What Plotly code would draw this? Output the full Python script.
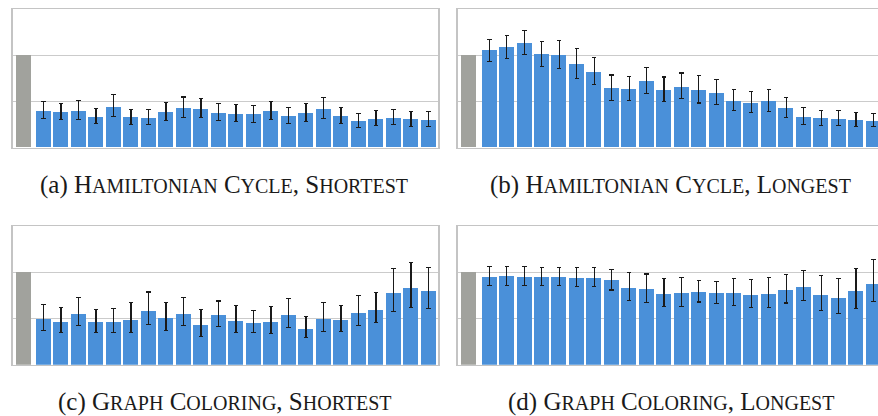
import plotly.graph_objects as go

# Normalised run length per configuration; the grey bar is the reference (1.0)
baseline = 1.0

ham_short = [0.396, 0.385, 0.396, 0.331, 0.439, 0.331, 0.320, 0.385, 0.428, 0.417, 0.374, 0.363,
             0.363, 0.396, 0.342, 0.374, 0.417, 0.342, 0.288, 0.309, 0.320, 0.309, 0.299]
ham_short_hi = [0.101, 0.094, 0.119, 0.097, 0.133, 0.083, 0.094, 0.104, 0.122, 0.115, 0.101, 0.104,
                0.097, 0.108, 0.090, 0.101, 0.126, 0.097, 0.083, 0.097, 0.097, 0.086, 0.090]
ham_short_lo = [0.076, 0.083, 0.086, 0.072, 0.104, 0.076, 0.072, 0.090, 0.104, 0.094, 0.079, 0.079,
                0.086, 0.094, 0.076, 0.086, 0.097, 0.076, 0.065, 0.068, 0.072, 0.079, 0.068]

ham_long = [1.054, 1.086, 1.129, 1.011, 1.000, 0.903, 0.817, 0.644, 0.633, 0.719, 0.622, 0.655,
            0.622, 0.590, 0.504, 0.482, 0.504, 0.428, 0.331, 0.320, 0.309, 0.299, 0.288]
ham_long_hi = [0.122, 0.126, 0.137, 0.144, 0.165, 0.169, 0.162, 0.144, 0.140, 0.147, 0.144, 0.155,
               0.158, 0.147, 0.126, 0.126, 0.126, 0.112, 0.101, 0.086, 0.094, 0.083, 0.086]
ham_long_lo = [0.115, 0.115, 0.122, 0.133, 0.140, 0.151, 0.133, 0.129, 0.122, 0.129, 0.122, 0.122,
               0.137, 0.122, 0.101, 0.097, 0.108, 0.097, 0.076, 0.076, 0.068, 0.068, 0.061]

col_short = [0.496, 0.464, 0.551, 0.464, 0.464, 0.486, 0.583, 0.507, 0.551, 0.431, 0.540, 0.475,
             0.453, 0.464, 0.540, 0.388, 0.496, 0.486, 0.562, 0.594, 0.779, 0.833, 0.801]
col_short_hi = [0.156, 0.156, 0.174, 0.130, 0.145, 0.188, 0.203, 0.167, 0.178, 0.163, 0.149, 0.163,
                0.134, 0.163, 0.178, 0.134, 0.178, 0.152, 0.188, 0.188, 0.264, 0.275, 0.254]
col_short_lo = [0.123, 0.120, 0.130, 0.112, 0.116, 0.134, 0.145, 0.134, 0.130, 0.127, 0.123, 0.123,
                0.101, 0.127, 0.141, 0.098, 0.138, 0.123, 0.141, 0.141, 0.199, 0.210, 0.192]

col_long = [0.953, 0.964, 0.953, 0.953, 0.953, 0.942, 0.942, 0.920, 0.833, 0.822, 0.768, 0.779,
            0.790, 0.779, 0.779, 0.757, 0.768, 0.812, 0.844, 0.757, 0.725, 0.801, 0.877]
col_long_hi = [0.109, 0.101, 0.105, 0.101, 0.101, 0.105, 0.105, 0.112, 0.163, 0.159, 0.167, 0.167,
               0.116, 0.120, 0.156, 0.167, 0.178, 0.163, 0.178, 0.210, 0.210, 0.239, 0.261]
col_long_lo = [0.094, 0.105, 0.094, 0.098, 0.098, 0.094, 0.098, 0.112, 0.141, 0.145, 0.141, 0.149,
               0.112, 0.116, 0.138, 0.138, 0.149, 0.145, 0.145, 0.170, 0.167, 0.192, 0.196]

labels = ["(a)", "(b)", "(c)", "(d)"]
captions = [
    "Hamiltonian Cycle, Shortest",
    "Hamiltonian Cycle, Longest",
    "Graph Coloring, Shortest",
    "Graph Coloring, Longest",
]

BLUE = "#4a90d9"
GREY = "#a1a29d"
FRAME = "#c4c4c4"
GRID = "#cbcbcb"

W, H = 878, 416
CAP_SIZE = 25
SC_SIZE = 20


def small_caps(text):
    """Render lowercase runs as reduced-size capitals."""
    out, run = [], ""
    for ch in text:
        if ch.islower():
            run += ch.upper()
        else:
            if run:
                out.append(f'<span style="font-size:{SC_SIZE}px">{run}</span>')
                run = ""
            out.append(ch)
    if run:
        out.append(f'<span style="font-size:{SC_SIZE}px">{run}</span>')
    return "".join(out)


panels = [
    # values, hi, lo, x-domain px, y-domain px (top, bottom), grey pos, x-range, full frame
    (ham_short, ham_short_hi, ham_short_lo, (13.3, 438.3), (9.3, 147.7), -1.143, (-1.724, 22.56), True),
    (ham_long, ham_long_hi, ham_long_lo, (458.3, 878), (9.3, 147.7), -1.203, (-1.786, 22.26), False),
    (col_short, col_short_hi, col_short_lo, (13.3, 438.3), (226.0, 364.7), -1.143, (-1.724, 22.56), True),
    (col_long, col_long_hi, col_long_lo, (458.3, 878), (226.0, 364.7), -1.203, (-1.786, 22.26), False),
]
caption_pos = [(224, 185), (670, 185), (225, 402), (671, 402)]

fig = go.Figure()
layout = {}
for k, (vals, hi, lo, xd, yd, gpos, xr, full) in enumerate(panels):
    n = k + 1
    xa = "x" if n == 1 else f"x{n}"
    ya = "y" if n == 1 else f"y{n}"
    fig.add_trace(go.Bar(
        x=[gpos], y=[baseline], width=0.86, marker=dict(color=GREY, line=dict(width=0)),
        xaxis=xa, yaxis=ya, showlegend=False, hoverinfo="skip"))
    fig.add_trace(go.Bar(
        x=list(range(len(vals))), y=vals, width=0.86,
        marker=dict(color=BLUE, line=dict(width=0)),
        error_y=dict(type="data", symmetric=False, array=hi, arrayminus=lo,
                     color="#1a1a1a", thickness=1.1, width=2.2),
        xaxis=xa, yaxis=ya, showlegend=False))
    xkey = "xaxis" if n == 1 else f"xaxis{n}"
    ykey = "yaxis" if n == 1 else f"yaxis{n}"
    layout[xkey] = dict(
        domain=[xd[0] / W, min(xd[1] / W, 1.0)], range=list(xr), anchor=ya,
        showgrid=False, zeroline=False, showticklabels=False, ticks="",
        showline=True, linecolor=FRAME, linewidth=1.3, mirror=True)
    layout[ykey] = dict(
        domain=[1 - yd[1] / H, 1 - yd[0] / H], range=[0, 1.5], anchor=xa,
        tickvals=[0.5, 1.0], showgrid=True, gridcolor=GRID, gridwidth=1.3,
        zeroline=False, showticklabels=False, ticks="",
        showline=True, linecolor=FRAME, linewidth=1.6, mirror=full)

for lab, text, (cx, cy) in zip(labels, captions, caption_pos):
    fig.add_annotation(
        text=lab + " " + small_caps(text), x=cx / W, y=1 - cy / H, xref="paper", yref="paper",
        xanchor="center", yanchor="middle", showarrow=False,
        font=dict(family="Liberation Serif", size=CAP_SIZE, color="#1a1a1a"))

fig.update_layout(
    width=W, height=H, margin=dict(l=0, r=0, t=0, b=0),
    paper_bgcolor="white", plot_bgcolor="white", barmode="overlay", bargap=0,
    **layout)

fig.write_html("out.html", config={"displayModeBar": False})
